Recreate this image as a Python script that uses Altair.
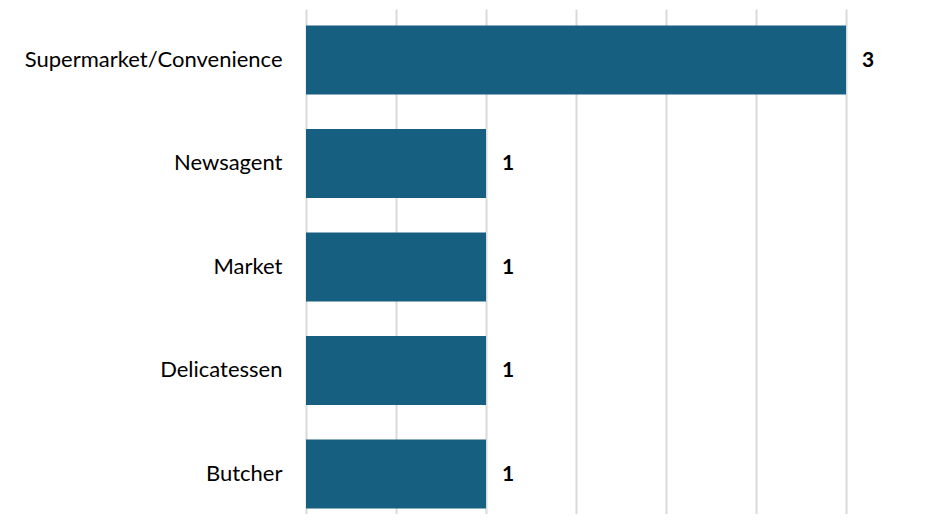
import altair as alt
import pandas as pd

categories = ["Supermarket/Convenience", "Newsagent", "Market", "Delicatessen", "Butcher"]
values = [3, 1, 1, 1, 1]
grid_values = [0, 0.5, 1, 1.5, 2, 2.5, 3, 3.5]

df = pd.DataFrame({"category": categories, "value": values})

FONT = "Lato"

x = alt.X("value:Q", scale=alt.Scale(domain=[0, 623 / 180], nice=False, zero=True),
          axis=alt.Axis(values=grid_values, labels=False, ticks=False,
                        domain=False, title=None, grid=True, gridColor="#d9d9d9", gridWidth=2))
y = alt.Y("category:N", sort=categories,
          scale=alt.Scale(paddingInner=0.333, paddingOuter=0.106, align=0.75),
          axis=alt.Axis(title=None, ticks=False, domain=False, labelFontSize=22, labelFont=FONT,
                        labelColor="#000000", labelPadding=24, grid=False, labelLimit=400))

bars = alt.Chart(df).mark_bar(color="#175f80").encode(x=x, y=y)
text = alt.Chart(df).mark_text(align="left", dx=16, dy=1, fontSize=21, fontWeight="bold", font=FONT,
                               color="#000000").encode(x=x, y=y, text="value:Q")

chart = (bars + text).properties(
    width=623, height=505,
    padding={"left": 298, "top": 1, "right": 0, "bottom": 0},
    autosize=alt.AutoSizeParams(type="none"),
).configure_view(stroke=None)

chart.save("out.html", embed_options={"renderer": "svg", "actions": False})
